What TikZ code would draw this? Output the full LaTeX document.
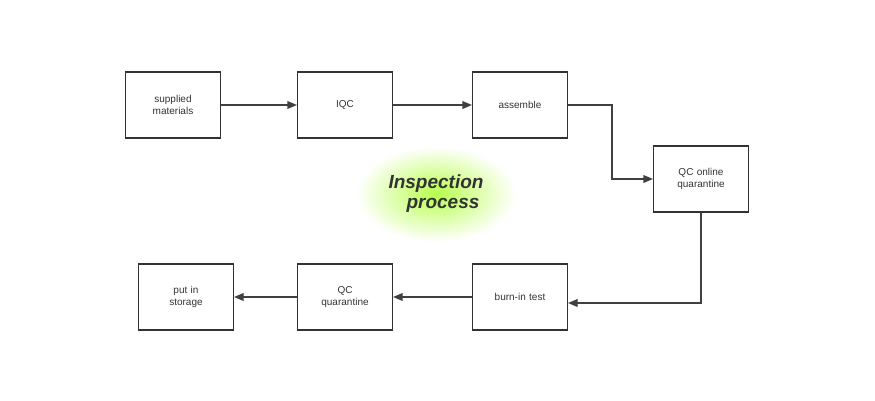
\documentclass[tikz,border=0pt]{standalone}
\usepackage{fontspec}
\setmainfont{Liberation Sans}
\usetikzlibrary{arrows, shapes.geometric}
\tikzstyle{process} = [rectangle, minimum width=95pt, minimum height=66pt, text width=80pt, align=center, draw=black!80, line width=1.2pt, fill=white, font=\fontsize{10}{12}\selectfont, text=black!80]
\tikzstyle{arrow} = [line width=1.2pt, draw=black!75, ->, >=triangle 45]
\tikzstyle{title} = [ellipse, minimum width=160pt, minimum height=96pt, inner color=yellow!60!green!70, outer color=white]

\begin{document}
\begin{tikzpicture}[x=1pt, y=-1pt]
    \useasboundingbox (0,0) rectangle (875,400);

    % Nodes
    \node (supplied) [process] at (173,105) {supplied\\materials};
    \node (iqc) [process] at (345,105) {IQC};
    \node (assemble) [process] at (520,105) {assemble};
    \node (online) [process] at (701,179) {QC online\\quarantine};
    \node (burnin) [process] at (520,297) {burn-in test};
    \node (quarantine) [process] at (345,297) {QC\\quarantine};
    \node (storage) [process] at (186,297) {put in\\storage};
    \node (title) [title] at (436,194) {};
    \node (titletext) at (436,194) [font=\bfseries\itshape\fontsize{19}{20}\selectfont, align=center, text=black!80] {Inspection\\\hspace{14pt}process};

    % Arrows
    \draw [arrow] (supplied) -- (iqc);
    \draw [arrow] (iqc) -- (assemble);
    \draw [arrow] (assemble.east) -| (612,179) -- (online.west);
    \draw [arrow] (online.south) |- ([yshift=-6pt]burnin.east);
    \draw [arrow] (burnin) -- (quarantine);
    \draw [arrow] (quarantine) -- (storage);
\end{tikzpicture}
\end{document}
